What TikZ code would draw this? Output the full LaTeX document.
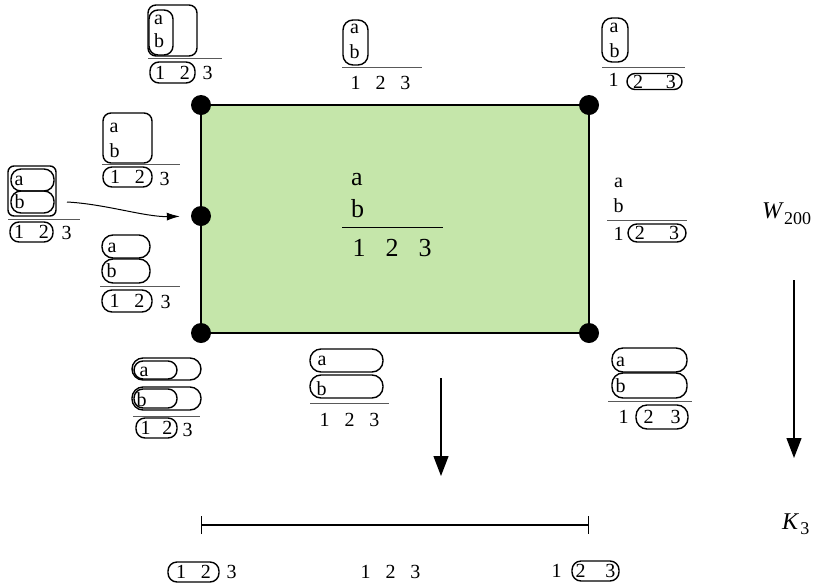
\documentclass[tikz,border=0pt]{standalone}
\usepackage{fontspec}
\setmainfont{Liberation Serif}
\usetikzlibrary{arrows.meta,backgrounds}
\definecolor{leaf}{RGB}{197,230,170}
\tikzset{
  txt/.style={inner sep=0pt, anchor=base west, font=\fontsize{20}{22}\selectfont},
  bigtxt/.style={inner sep=0pt, anchor=base west, font=\fontsize{26}{28}\selectfont},
  pill/.style={draw, line width=1.4pt, rounded corners=9pt, inner sep=0pt, font=\fontsize{20}{22}\selectfont},
  frac/.style={draw=black!65, line width=1pt},
  vertex/.style={circle, fill=black, inner sep=0pt, minimum size=20pt},
  flow/.style={line width=1.3pt, -{Triangle[length=20pt,width=15pt]}},
}
\begin{document}
\begin{tikzpicture}[x=1pt,y=-1pt]
\useasboundingbox (0,0) rectangle (816,587);
% corners of the face
\node[vertex] (tl) at (201,105) {};
\node[vertex] (tr) at (589,105) {};
\node[vertex] (bl) at (201,333) {};
\node[vertex] (br) at (589,333) {};
\node[vertex] (ml) at (201,216) {};
\begin{scope}[on background layer]
\draw[line width=1.8pt, fill=leaf] (tl.center) -- (tr.center) -- (br.center) -- (bl.center) -- cycle;
\end{scope}
% face label
\node[bigtxt] (ca) at (351,185) {a};
\node[bigtxt] (cb) at (351,217) {b};
\draw[frac, draw=black] (342,227) -- (443,227);
\node[bigtxt] (c123) at (352.5,256) {1\hspace{.77em}2\hspace{.77em}3};
% top left
\node[pill, rounded corners=8pt, minimum width=49pt, minimum height=51pt] (tlbox) at (172.5,30.5) {};
\node[pill, minimum width=24pt, minimum height=45pt] (tlin) at (161,32.5) {};
\node[txt] (tla) at (154,24) {a};
\node[txt] (tlb) at (154,47) {b};
\draw[frac] (148,58) -- (222,58);
\node[pill, minimum width=45pt, minimum height=21pt] (tl12) at (172.5,72.5) {1\hspace{.74em}2};
\node[txt] (tl3) at (202.5,79.5) {3};
% upper left
\node[pill, rounded corners=8pt, minimum width=49pt, minimum height=50pt] (ulbox) at (127.5,138) {};
\node[txt] (ula) at (109.5,132) {a};
\node[txt] (ulb) at (109.5,157) {b};
\draw[frac] (102,164) -- (180,164);
\node[pill, minimum width=49pt, minimum height=20pt] (ul12) at (127.5,177) {1\hspace{.74em}2};
\node[txt] (ul3) at (159.5,185) {3};
% left middle
\node[pill, rounded corners=6pt, minimum width=48pt, minimum height=50pt] (lmbox) at (32,191) {};
\node[pill, rounded corners=10pt, minimum width=43pt, minimum height=22pt] (lmpa) at (32.5,180) {};
\node[pill, rounded corners=10pt, minimum width=43pt, minimum height=22pt] (lmpb) at (32.5,202) {};
\node[txt] (lma) at (14.5,185) {a};
\node[txt] (lmb) at (14.5,208) {b};
\draw[frac] (8,219) -- (80,219);
\node[pill, minimum width=43pt, minimum height=20pt] (lm12) at (31.5,232) {1\hspace{.74em}2};
\node[txt] (lm3) at (61.5,239) {3};
\coordinate (lmtail) at (67,202);
\draw[line width=1pt, -{Latex[length=13pt,width=8pt]}, shorten >=11pt] (lmtail) .. controls (105,204) and (145,217) .. (ml);
% left lower
\node[pill, rounded corners=11pt, minimum width=48pt, minimum height=23pt] (llpa) at (126,246.5) {};
\node[pill, rounded corners=11pt, minimum width=48pt, minimum height=24pt] (llpb) at (126,271) {};
\node[txt] (lla) at (107.5,252) {a};
\node[txt] (llb) at (106.5,277) {b};
\draw[frac] (100,286) -- (180,286);
\node[pill, rounded corners=10pt, minimum width=50pt, minimum height=22pt] (ll12) at (127,301) {1\hspace{.74em}2};
\node[txt] (ll3) at (160.5,308) {3};
% bottom left
\node[pill, rounded corners=11pt, minimum width=69pt, minimum height=22pt] (blpa) at (166.5,369) {};
\node[pill, minimum width=43pt, minimum height=18pt] (blqa) at (155.5,370) {};
\node[txt] (bla) at (139.5,376) {a};
\node[pill, rounded corners=11pt, minimum width=69pt, minimum height=23pt] (blpb) at (166.5,398.5) {};
\node[pill, minimum width=43pt, minimum height=19pt] (blqb) at (155.5,398.5) {};
\node[txt] (blb) at (136.5,406) {b};
\draw[frac] (133,416) -- (200,416);
\node[pill, minimum width=41pt, minimum height=20pt] (bl12) at (156.5,428) {1\hspace{.58em}2};
\node[txt] (bl3) at (182.5,436) {3};
% bottom middle
\node[pill, rounded corners=11pt, minimum width=73pt, minimum height=23pt] (bmpa) at (346.5,360.5) {};
\node[pill, rounded corners=11pt, minimum width=73pt, minimum height=23pt] (bmpb) at (346.5,386.5) {};
\node[txt] (bma) at (317.5,365) {a};
\node[txt] (bmb) at (316.5,395) {b};
\draw[frac] (310,403) -- (389,403);
\node[txt] (bm123) at (319.5,426) {1\hspace{.74em}2\hspace{.74em}3};
% top middle
\node[pill, rounded corners=10pt, minimum width=25pt, minimum height=45pt] (tmbox) at (355.5,42.5) {};
\node[txt] (tma) at (350,33) {a};
\node[txt] (tmb) at (349.5,58) {b};
\draw[frac] (342,67) -- (422,67);
\node[txt] (tm123) at (350.5,89) {1\hspace{.74em}2\hspace{.74em}3};
% top right
\node[pill, rounded corners=10pt, minimum width=26pt, minimum height=44pt] (trbox) at (615,40) {};
\node[txt] (tra) at (609.5,32) {a};
\node[txt] (trb) at (609.5,57) {b};
\draw[frac] (602,67) -- (685,67);
\node[txt] (tr1) at (608.5,86) {1};
\node[pill, rounded corners=8pt, minimum width=55pt, minimum height=16pt] (tr23) at (654.5,81.5) {2\hspace{1.15em}3};
% right middle
\node[txt] (rma) at (614,187) {a};
\node[txt] (rmb) at (613.5,212) {b};
\draw[frac] (607,220) -- (687,220);
\node[txt] (rm1) at (613.5,240) {1};
\node[pill, minimum width=58pt, minimum height=18pt] (rm23) at (657,233) {2\hspace{1.22em}3};
% right lower
\node[pill, rounded corners=11pt, minimum width=75pt, minimum height=24pt] (rlpa) at (649.5,360) {};
\node[pill, rounded corners=11pt, minimum width=75pt, minimum height=25pt] (rlpb) at (649.5,385.5) {};
\node[txt] (rla) at (616,366) {a};
\node[txt] (rlb) at (615.5,392) {b};
\draw[frac] (608,401) -- (692,401);
\node[txt] (rl1) at (618.5,423) {1};
\node[pill, rounded corners=11pt, minimum width=52pt, minimum height=24pt] (rl23) at (662,417) {2\hspace{.85em}3};
% maps
\coordinate (d0) at (441,378);
\coordinate (d1) at (441,476);
\draw[flow] (d0) -- (d1);
\coordinate (w0) at (794,280);
\coordinate (w1) at (794,458);
\draw[flow] (w0) -- (w1);
\node[inner sep=0pt, anchor=base west, font=\fontsize{24}{26}\selectfont] (wlab) at (762,218) {\textit{W}\raisebox{-6pt}{\fontsize{18}{20}\selectfont 200}};
\node[inner sep=0pt, anchor=base west, font=\fontsize{24}{26}\selectfont] (klab) at (782,529) {\textit{K}\kern1pt\raisebox{-5pt}{\fontsize{18}{20}\selectfont 3}};
% the edge K3
\coordinate (k0) at (201,525);
\coordinate (k1) at (589,525);
\draw[line width=1.3pt, {Bar[width=18pt]}-{Bar[width=18pt]}] (k0) -- (k1);
\node[pill, minimum width=51pt, minimum height=20pt] (k12) at (193.5,572) {1\hspace{.74em}2};
\node[txt] (k3a) at (226.5,578) {3};
\node[txt] (k123) at (360.5,578) {1\hspace{.74em}2\hspace{.74em}3};
\node[txt] (k1b) at (551.5,577) {1};
\node[pill, minimum width=47pt, minimum height=20pt] (k23) at (595.5,571) {2\hspace{.98em}3};
\end{tikzpicture}
\end{document}
